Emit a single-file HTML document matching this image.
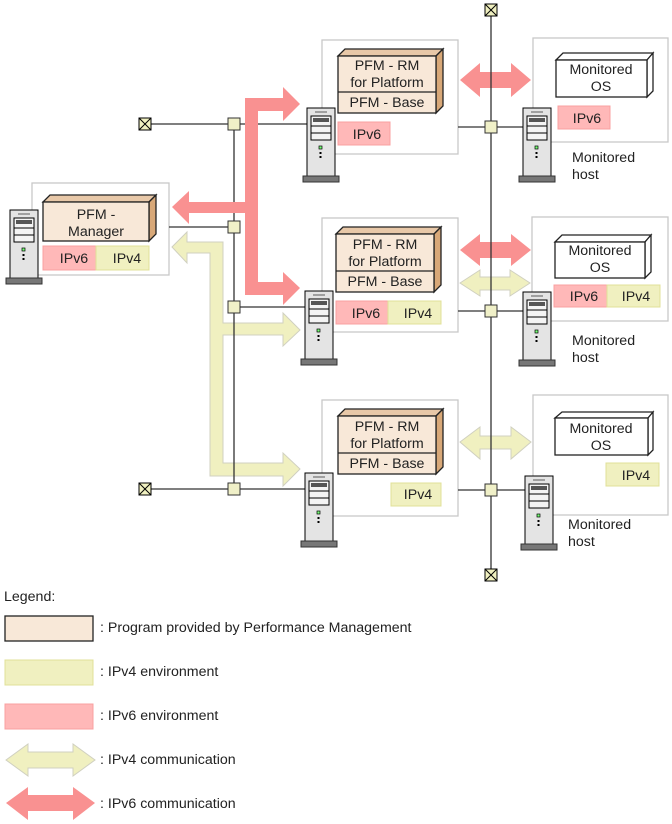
<!DOCTYPE html>
<html><head><meta charset="utf-8"><style>
body{margin:0;background:#fff}
svg{display:block;font-family:"Liberation Sans",Arial,sans-serif;font-size:14.2px}
</style></head><body>
<svg width="672" height="824" viewBox="0 0 672 824" xmlns="http://www.w3.org/2000/svg">
<defs>
<g id="srv">
<rect x="0" y="0" width="28" height="68" fill="#e4e4e4" stroke="#000" stroke-width="1"/>
<line x1="8" y1="4" x2="20" y2="4" stroke="#888" stroke-width="1.5"/>
<rect x="4" y="8" width="20" height="24" fill="#f4f4f4" stroke="#000"/>
<rect x="6" y="10" width="16" height="4" fill="#555"/>
<line x1="4" y1="18" x2="24" y2="18" stroke="#000"/>
<line x1="4" y1="25" x2="24" y2="25" stroke="#000"/>
<rect x="12" y="38" width="3" height="3" fill="#7f7" stroke="#000" stroke-width="0.7"/>
<rect x="12.5" y="44" width="2" height="2" fill="#000"/>
<rect x="12.5" y="48" width="2" height="2" fill="#000"/>
<rect x="-4" y="68" width="36" height="6" fill="#777" stroke="#333"/>
</g>
<g id="term">
<rect x="-6" y="-6" width="12" height="12" fill="#f0f0c0" stroke="#000"/>
<line x1="-6" y1="-6" x2="6" y2="6" stroke="#000"/>
<line x1="6" y1="-6" x2="-6" y2="6" stroke="#000"/>
</g>
<rect id="jn" x="-6" y="-6" width="12" height="12" fill="#f0f0c8" stroke="#333"/>
</defs>

<g fill="#fff" stroke="#c8c8c8" stroke-width="1.3">
<rect x="32" y="183" width="137" height="92"/>
<rect x="322" y="40" width="136" height="114"/>
<rect x="533" y="38" width="135" height="104"/>
<rect x="322" y="218" width="136" height="114"/>
<rect x="532" y="217" width="136" height="104"/>
<rect x="322" y="400" width="136" height="116"/>
<rect x="533" y="395" width="135" height="120"/>
</g>

<polygon points="172,247 187,232 187,242 223,242 223,323 283,323 283,313 300,330 283,346 283,335 223,335 223,463 283,463 283,453 300,469 283,486 283,476 210,476 210,253 187,253 187,263" fill="#f0f0c0" stroke="#d0d0c0"/>

<polygon points="460,80 480,63 480,72 511,72 511,63 531,80 511,97 511,88 480,88 480,97" fill="#f99191"/>
<polygon points="460,250 480,234 480,242 511,242 511,234 531,250 511,266 511,258 480,258 480,266" fill="#f99191"/>
<polygon points="460,283 480,270 480,277 510,277 510,270 530,283 510,296 510,290 480,290 480,296" fill="#f0f0c0" stroke="#d0d0c0"/>
<polygon points="460,442 480,427 480,436 511,436 511,427 531,442 511,459 511,449 480,449 480,459" fill="#f0f0c0" stroke="#d0d0c0"/>

<g stroke="#333" stroke-width="1.3">
<line x1="234" y1="124" x2="234" y2="489"/>
<line x1="145" y1="124" x2="307" y2="124"/>
<line x1="169" y1="227" x2="234" y2="227"/>
<line x1="234" y1="307" x2="305" y2="307"/>
<line x1="145" y1="489" x2="305" y2="489"/>
<line x1="491" y1="10" x2="491" y2="575"/>
<line x1="458" y1="127" x2="523" y2="127"/>
<line x1="458" y1="311" x2="523" y2="311"/>
<line x1="458" y1="490" x2="525" y2="490"/>
</g>

<polygon points="245,98 283,98 283,87 300,104 283,121 283,111 258,111 258,282 283,282 283,272 300,288 283,305 283,295 245,295 245,213 189,213 189,224 172,207 189,191 189,202 245,202" fill="#f99191"/>

<use href="#jn" x="234" y="124"/>
<use href="#jn" x="234" y="227"/>
<use href="#jn" x="234" y="307"/>
<use href="#jn" x="234" y="489"/>
<use href="#jn" x="491" y="127"/>
<use href="#jn" x="491" y="311"/>
<use href="#jn" x="491" y="490"/>
<use href="#term" x="145" y="124"/>
<use href="#term" x="145" y="489"/>
<use href="#term" x="491" y="10"/>
<use href="#term" x="491" y="575"/>

<use href="#srv" x="10" y="210"/>
<use href="#srv" x="307" y="108"/>
<use href="#srv" x="523" y="108"/>
<use href="#srv" x="305" y="291"/>
<use href="#srv" x="523" y="292"/>
<use href="#srv" x="305" y="473"/>
<use href="#srv" x="525" y="476"/>

<g stroke="#222" stroke-width="1.3">
<polygon points="43,202 50,195 156,195 149,202" fill="#e8c8a8"/>
<polygon points="149,202 156,195 156,234 149,241" fill="#d8a878"/>
<rect x="43" y="202" width="106" height="39" fill="#f8e8d8"/>
<polygon points="338,56 345,49 443,49 436,56" fill="#e8c8a8"/>
<polygon points="436,56 443,49 443,106 436,113" fill="#d8a878"/>
<rect x="338" y="56" width="98" height="57" fill="#f8e8d8"/>
<line x1="338" y1="92" x2="436" y2="92"/>
<polygon points="336,234 343,227 441,227 434,234" fill="#e8c8a8"/>
<polygon points="434,234 441,227 441,285 434,292" fill="#d8a878"/>
<rect x="336" y="234" width="98" height="58" fill="#f8e8d8"/>
<line x1="336" y1="271" x2="434" y2="271"/>
<polygon points="338,416 345,409 443,409 436,416" fill="#e8c8a8"/>
<polygon points="436,416 443,409 443,467 436,474" fill="#d8a878"/>
<rect x="338" y="416" width="98" height="58" fill="#f8e8d8"/>
<line x1="338" y1="453" x2="436" y2="453"/>
<polygon points="556,60 563,53 653,53 647,60" fill="#fff"/>
<polygon points="647,60 653,53 653,91 647,97" fill="#fff"/>
<rect x="556" y="60" width="91" height="37" fill="#fff"/>
<polygon points="555,242 562,235 651,235 645,242" fill="#fff"/>
<polygon points="645,242 651,235 651,272 645,278" fill="#fff"/>
<rect x="555" y="242" width="90" height="36" fill="#fff"/>
<polygon points="555,418 562,412 653,412 648,418" fill="#fff"/>
<polygon points="648,418 653,412 653,450 648,455" fill="#fff"/>
<rect x="555" y="418" width="93" height="37" fill="#fff"/>
</g>

<g stroke-width="1">
<rect x="43" y="246" width="53" height="24" fill="#ffb8b8" stroke="#f8a0a0"/>
<rect x="96" y="246" width="53" height="24" fill="#f0f0c0" stroke="#e0e098"/>
<rect x="338" y="122" width="52" height="23" fill="#ffb8b8" stroke="#f8a0a0"/>
<rect x="558" y="106" width="52" height="23" fill="#ffb8b8" stroke="#f8a0a0"/>
<rect x="336" y="301" width="52" height="23" fill="#ffb8b8" stroke="#f8a0a0"/>
<rect x="388" y="301" width="53" height="23" fill="#f0f0c0" stroke="#e0e098"/>
<rect x="554" y="285" width="53" height="22" fill="#ffb8b8" stroke="#f8a0a0"/>
<rect x="607" y="285" width="53" height="22" fill="#f0f0c0" stroke="#e0e098"/>
<rect x="391" y="483" width="50" height="23" fill="#f0f0c0" stroke="#e0e098"/>
<rect x="606" y="463" width="53" height="23" fill="#f0f0c0" stroke="#e0e098"/>
</g>

<g fill="#222" text-anchor="middle">
<text x="96" y="219">PFM -</text>
<text x="96" y="236">Manager</text>
<text x="74" y="263">IPv6</text>
<text x="127" y="263">IPv4</text>
<text x="387" y="70">PFM - RM</text>
<text x="387" y="87">for Platform</text>
<text x="387" y="107">PFM - Base</text>
<text x="367" y="139">IPv6</text>
<text x="601" y="74">Monitored</text>
<text x="601" y="91">OS</text>
<text x="587" y="123">IPv6</text>
<text x="385" y="249">PFM - RM</text>
<text x="385" y="266">for Platform</text>
<text x="385" y="286">PFM - Base</text>
<text x="366" y="318">IPv6</text>
<text x="418" y="318">IPv4</text>
<text x="600" y="255">Monitored</text>
<text x="600" y="272">OS</text>
<text x="584" y="301">IPv6</text>
<text x="636" y="301">IPv4</text>
<text x="387" y="431">PFM - RM</text>
<text x="387" y="448">for Platform</text>
<text x="387" y="468">PFM - Base</text>
<text x="418" y="499">IPv4</text>
<text x="601" y="433">Monitored</text>
<text x="601" y="450">OS</text>
<text x="636" y="480">IPv4</text>
</g>
<g fill="#222">
<text x="572" y="162">Monitored</text>
<text x="572" y="179">host</text>
<text x="572" y="345">Monitored</text>
<text x="572" y="362">host</text>
<text x="568" y="529">Monitored</text>
<text x="568" y="546">host</text>
</g>

<text x="4" y="601" fill="#222">Legend:</text>
<rect x="5" y="616" width="88" height="25" fill="#f8e8d8" stroke="#222" stroke-width="1.3"/>
<rect x="5" y="660" width="88" height="25" fill="#f0f0c0" stroke="#e0e098"/>
<rect x="5" y="704" width="88" height="25" fill="#ffb8b8" stroke="#f8a0a0"/>
<polygon points="6,760 28,744 28,752 73,752 73,744 95,760 73,776 73,768 28,768 28,776" fill="#f0f0c0" stroke="#d0d0c0"/>
<polygon points="6,803 28,787 28,795 73,795 73,787 95,803 73,820 73,811 28,811 28,820" fill="#f99191"/>
<g fill="#222">
<text x="100" y="632">: Program provided by Performance Management</text>
<text x="100" y="676">: IPv4 environment</text>
<text x="100" y="720">: IPv6 environment</text>
<text x="100" y="764">: IPv4 communication</text>
<text x="100" y="808">: IPv6 communication</text>
</g>
</svg>
</body></html>
